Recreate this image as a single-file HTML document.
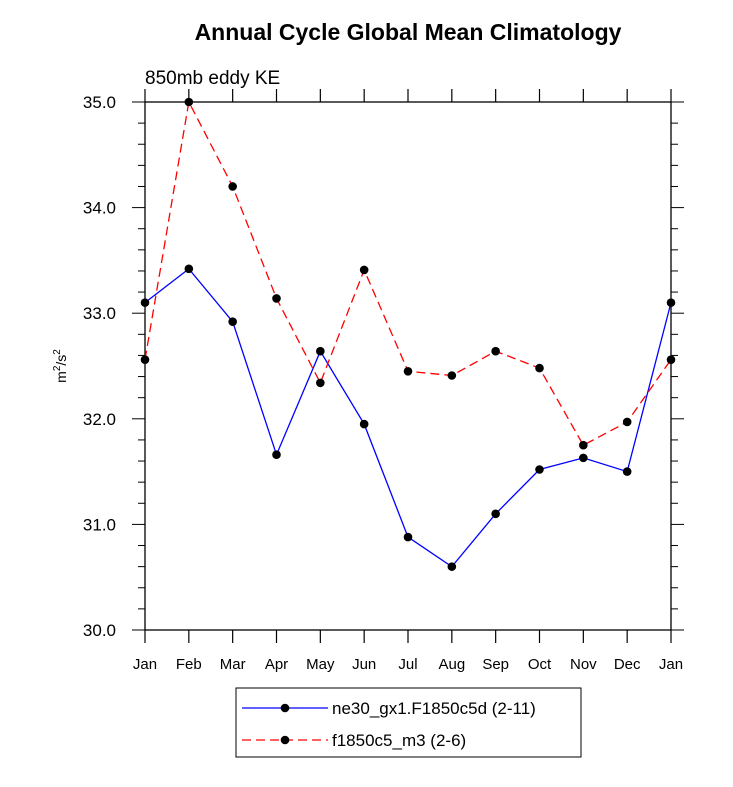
<!DOCTYPE html>
<html><head><meta charset="utf-8"><style>body{margin:0;background:#fff}</style></head>
<body>
<svg id="c" width="733" height="782" xmlns="http://www.w3.org/2000/svg" font-family="Liberation Sans, sans-serif">
<text x="408" y="40" text-anchor="middle" font-size="23" font-weight="bold">Annual Cycle Global Mean Climatology</text>
<text x="145" y="84" font-size="19">850mb eddy KE</text>
<text transform="translate(66,366) rotate(-90)" text-anchor="middle" font-size="14">m<tspan dy="-6" font-size="10">2</tspan><tspan dy="6">/s</tspan><tspan dy="-6" font-size="10">2</tspan></text>
<g id="axes"></g><g id="series"></g>
<g>
<rect x="236" y="688" width="345" height="69" fill="none" stroke="#000" stroke-width="1"/>
<line x1="242" y1="708" x2="328" y2="708" stroke="#00f" stroke-width="1.3"/><circle cx="285" cy="708" r="4.3"/>
<text x="332" y="714" font-size="17">ne30_gx1.F1850c5d (2-11)</text>
<line x1="242" y1="740" x2="328" y2="740" stroke="#f00" stroke-width="1.3" stroke-dasharray="9,5"/><circle cx="285" cy="740" r="4.3"/>
<text x="332" y="746" font-size="17">f1850c5_m3 (2-6)</text>
</g>
</svg>
<script>
const months=["Jan","Feb","Mar","Apr","May","Jun","Jul","Aug","Sep","Oct","Nov","Dec","Jan"];
const blueVals=[33.1,33.42,32.92,31.66,32.64,31.95,30.88,30.6,31.1,31.52,31.63,31.5,33.1];
const redVals=[32.56,35.0,34.2,33.14,32.34,33.41,32.45,32.41,32.64,32.48,31.75,31.97,32.56];
const yTicks=[30,31,32,33,34,35];
const X0=145,X1=671,Y0=630,Y1=102,ymin=30,ymax=35;
const NS="http://www.w3.org/2000/svg";
function xs(i){return X0+(X1-X0)*i/(months.length-1);}
function ys(v){return Y0-(v-ymin)/(ymax-ymin)*(Y0-Y1);}
function mk(t,a,p){const e=document.createElementNS(NS,t);for(const k in a)e.setAttribute(k,a[k]);p.appendChild(e);return e;}
const ax=document.getElementById('axes');
const fr=mk('rect',{x:X0,y:Y1,width:X1-X0,height:Y0-Y1,fill:'none',stroke:'#000','stroke-width':1.3},ax);


months.forEach((m,i)=>{const x=xs(i);
mk('line',{x1:x,y1:Y0,x2:x,y2:Y0+13,stroke:'#000','stroke-width':1.2},ax);
mk('line',{x1:x,y1:Y1,x2:x,y2:Y1-13,stroke:'#000','stroke-width':1.2},ax);
const t=mk('text',{x:x,y:Y0+39,'text-anchor':'middle','font-size':15},ax);t.textContent=m;

});
for(let v=ymin;v<=ymax+1e-9;v+=0.2){const y=ys(v);const maj=Math.abs(v-Math.round(v))<1e-6;const L=maj?13:7;
mk('line',{x1:X0,y1:y,x2:X0-L,y2:y,stroke:'#000','stroke-width':1},ax);
mk('line',{x1:X1,y1:y,x2:X1+L,y2:y,stroke:'#000','stroke-width':1},ax);}
yTicks.forEach(v=>{const t=mk('text',{x:X0-29,y:ys(v)+6,'text-anchor':'end','font-size':17},ax);t.textContent=v.toFixed(1);

});
const sg=document.getElementById('series');
function series(vals,col,dash,name){const g=mk('g',{},sg);


mk('polyline',{points:vals.map((v,i)=>xs(i)+','+ys(v)).join(' '),fill:'none',stroke:col,'stroke-width':1.3,'stroke-dasharray':dash},g);
vals.forEach((v,i)=>{const c=mk('circle',{cx:xs(i),cy:ys(v),r:4.3,fill:'#000'},g);

});}
series(blueVals,'#00f','none','series-ne30');
series(redVals,'#f00','9,5','series-f1850');
</script>
</body></html>
